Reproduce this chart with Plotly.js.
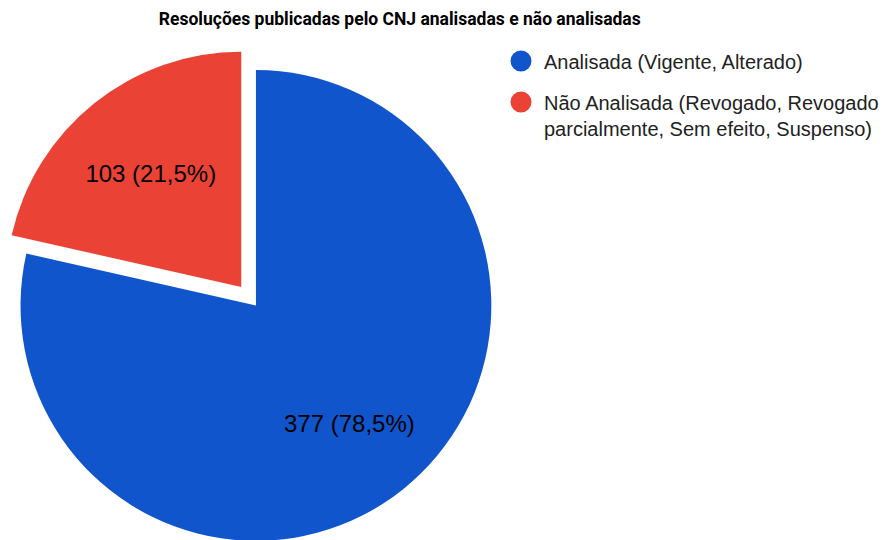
<!DOCTYPE html>
<html>
<head>
<meta charset="utf-8">
<script src="https://cdn.plot.ly/plotly-3.0.1.min.js"></script>
<style>
  html, body { margin: 0; padding: 0; overflow: hidden; background: #fff; }
  #chart { position: absolute; left: -3px; top: 0; width: 887px; height: 565px; }
</style>
</head>
<body>
<div id="chart"></div>
<script>
const labels = ['Analisada (Vigente, Alterado)', 'Não Analisada (Revogado, Revogado<br>parcialmente, Sem efeito, Suspenso)'];
const values = [377, 103];
const colors = ['#1155cc', '#ea4335'];
const pulls = [0, 0.1];

const FONT = 'Arial, "Liberation Sans", sans-serif';
const W = 887;
const H = 565;
const TOP = 46;
const PIE_DOMAIN_X = [0, 522 / W];

const total = values.reduce((a, b) => a + b, 0);
const fmtPct = (v) => `${(v / total * 100).toFixed(1).replace('.', ',')}%`;

// the big slice's label sits further out than plotly puts it, so place it along
// the slice's middle angle (derived from the values)
const plotH = H - TOP;
const pieW = W * (PIE_DOMAIN_X[1] - PIE_DOMAIN_X[0]);
const radius = Math.min(pieW, plotH) / (2 * (1 + Math.max(...pulls)));
const midAngle = (values[0] / total) * Math.PI; // clockwise from 12 o'clock
const labelR = 0.64 * radius;
const bigLabel = {
  text: `${values[0]} (${fmtPct(values[0])})`,
  xref: 'paper',
  yref: 'paper',
  x: (pieW / 2 + labelR * Math.sin(midAngle)) / W,
  y: 0.5 - (labelR * -Math.cos(midAngle)) / plotH,
  xanchor: 'center',
  yanchor: 'middle',
  showarrow: false,
  font: { family: FONT, size: 24, color: '#000' },
};

const pie = {
  type: 'pie',
  labels,
  values,
  sort: false,
  direction: 'clockwise',
  rotation: 0,
  pull: pulls,
  marker: { colors },
  texttemplate: ['', '%{value} (%{percent:.1%})'],
  textposition: 'inside',
  insidetextorientation: 'horizontal',
  insidetextfont: { family: FONT, size: 24, color: '#000' },
  hoverinfo: 'label+value+percent',
  showlegend: false,
  domain: { x: PIE_DOMAIN_X, y: [0, 1] },
};

// legend entries drawn as circles
const legendTraces = labels.map((label, i) => ({
  type: 'scatter',
  mode: 'markers',
  x: [null],
  y: [null],
  name: label,
  legendgroup: 'g' + i,
  hoverinfo: 'skip',
  marker: { symbol: 'circle', size: 16, color: colors[i], line: { color: colors[i], width: 5 } },
}));

const layout = {
  width: W,
  height: H,
  margin: { l: 0, r: 0, t: TOP, b: 0 },
  paper_bgcolor: 'white',
  plot_bgcolor: 'rgba(0,0,0,0)',
  separators: ',.',
  font: { family: FONT, color: '#222' },
  title: {
    text: '<b>Resoluções publicadas pelo CNJ analisadas e não analisadas</b>',
    font: { family: 'Roboto, Arial, sans-serif', size: 17.5, color: '#000' },
    x: 406 / W,
    xanchor: 'center',
    xref: 'paper',
    y: 1 - 19 / H,
    yanchor: 'middle',
  },
  xaxis: { visible: false, domain: [0.99, 1] },
  yaxis: { visible: false, domain: [0.99, 1] },
  annotations: [bigLabel],
  showlegend: true,
  legend: {
    x: 505 / W,
    xanchor: 'left',
    y: 1 + 4.5 / plotH,
    yanchor: 'top',
    valign: 'top',
    itemwidth: 36,
    tracegroupgap: 12,
    font: { family: FONT, size: 20, color: '#222' },
    itemclick: false,
    itemdoubleclick: false,
  },
};

Plotly.newPlot('chart', [pie, ...legendTraces], layout, { displayModeBar: false, staticPlot: true });
</script>
</body>
</html>
